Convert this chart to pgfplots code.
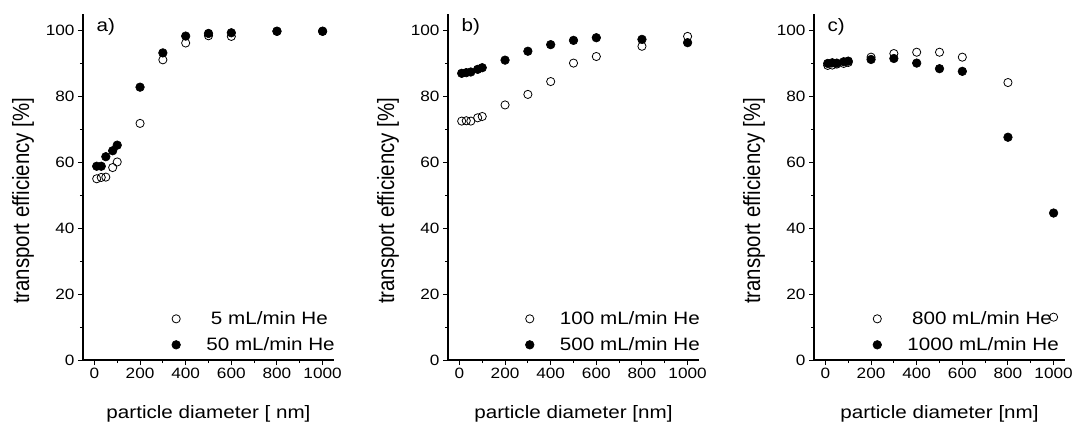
\documentclass[border=0pt]{standalone}
\usepackage{fontspec}
\setmainfont{Liberation Sans}
\usepackage{graphicx}
\usepackage{pgfplots}
\pgfplotsset{compat=1.18}
\newcommand\sx[1]{\scalebox{1.15}[1]{#1}}
\newcommand\sy[1]{\scalebox{1}[1.15]{#1}}
\pgfplotsset{
  panel/.style={
    scale only axis, width=251bp, height=346bp,
    xmin=-50, xmax=1050, ymin=0, ymax=105,
    axis x line*=bottom, axis y line*=left,
    axis line style={-, line width=1.1bp},
    xtick={0,200,...,1000}, minor xtick={100,300,...,900},
    ytick={0,20,...,100}, minor ytick={10,30,...,90},
    tick align=outside, major tick length=5bp, minor tick length=3bp,
    every tick/.style={black, line width=1bp},
    /pgf/number format/assume math mode=true,
    /pgf/number format/1000 sep={},
    xticklabel={\sx{\pgfmathprintnumber{\tick}}},
    yticklabel={\sx{\pgfmathprintnumber{\tick}}},
    ticklabel style={font=\fontsize{15}{18}\selectfont},
    xlabel style={font=\fontsize{18}{21}\selectfont, at={(axis description cs:0.5,-0.168)}, anchor=base},
    ylabel style={font=\fontsize{20.5}{23}\selectfont, at={(axis description cs:-0.239,0.46)}, anchor=center},
    ylabel={\sy{transport efficiency [\%]}},
    clip=false,
    legend cell align=left,
    legend image code/.code={\draw[##1] plot coordinates {(0bp,0bp)}; \path (-4.4bp,0bp) (30bp,0bp);},
    legend style={draw=none, fill=none, inner sep=0pt, anchor=west, xshift=-4.5bp,
      font=\fontsize{18}{21}\selectfont, row sep=9bp, column sep=0pt,
      nodes={inner sep=0pt, text height=14bp, text depth=3bp}},
  },
  op/.style={only marks, mark=o, mark size=4.1bp, mark options={line width=0.8bp, black}},
  fp/.style={only marks, mark=*, mark size=4.3bp, mark options={line width=0.6bp, black, fill=black}},
}
\begin{document}
\begin{tikzpicture}
\path[use as bounding box] (0,0) rectangle (1077bp,423bp);
% panel a
\begin{axis}[panel, at={(83bp,63bp)}, anchor=south west,
  xlabel={\sx{particle diameter [ nm]}},
  legend style={at={(axis cs:357,8.55)}}]
\addplot[op] coordinates {(10,55.0) (30,55.4) (50,55.5) (80,58.4) (100,60.1) (200,71.8) (300,91.1) (400,96.2) (500,98.4) (600,98.2) (800,99.7) (1000,99.7)};
\addlegendentry{\sx{\hspace{4bp}5 mL/min He}}
\addplot[fp] coordinates {(10,58.8) (30,58.8) (50,61.7) (80,63.5) (100,65.2) (200,82.8) (300,93.2) (400,98.3) (500,99.1) (600,99.3) (800,99.8) (1000,99.8)};
\addlegendentry{\sx{50 mL/min He}}
\node[anchor=base west, font=\fontsize{18}{21}\selectfont] at (axis description cs:0.04,0.948) {\sx{a)}};
\end{axis}
% panel b
\begin{axis}[panel, at={(448bp,63bp)}, anchor=south west,
  xlabel={\sx{particle diameter [nm]}},
  legend style={at={(axis cs:307,8.55)}}]
\addplot[op] coordinates {(10,72.5) (30,72.6) (50,72.5) (80,73.5) (100,73.9) (200,77.4) (300,80.6) (400,84.5) (500,90.1) (600,92.1) (800,95.2) (1000,98.2)};
\addlegendentry{\sx{100 mL/min He}}
\addplot[fp] coordinates {(10,87.0) (30,87.2) (50,87.4) (80,88.2) (100,88.7) (200,91.0) (300,93.7) (400,95.7) (500,97.0) (600,97.8) (800,97.3) (1000,96.3)};
\addlegendentry{\sx{500 mL/min He}}
\node[anchor=base west, font=\fontsize{18}{21}\selectfont] at (axis description cs:0.04,0.948) {\sx{b)}};
\end{axis}
% panel c
\begin{axis}[panel, at={(814bp,63bp)}, anchor=south west,
  xlabel={\sx{particle diameter [nm]}},
  legend style={at={(axis cs:226,8.55)}}]
\addplot[op] coordinates {(10,89.4) (30,89.5) (50,89.8) (80,90.0) (100,90.3) (200,91.9) (300,93.0) (400,93.4) (500,93.4) (600,91.9) (800,84.2) (1000,13.0)};
\addlegendentry{\sx{\hspace{4bp}800 mL/min He}}
\addplot[fp] coordinates {(10,90.0) (30,90.2) (50,90.1) (80,90.5) (100,90.7) (200,91.2) (300,91.5) (400,90.1) (500,88.4) (600,87.6) (800,67.6) (1000,44.6)};
\addlegendentry{\sx{1000 mL/min He}}
\node[anchor=base west, font=\fontsize{18}{21}\selectfont] at (axis description cs:0.04,0.948) {\sx{c)}};
\end{axis}
\end{tikzpicture}
\end{document}
